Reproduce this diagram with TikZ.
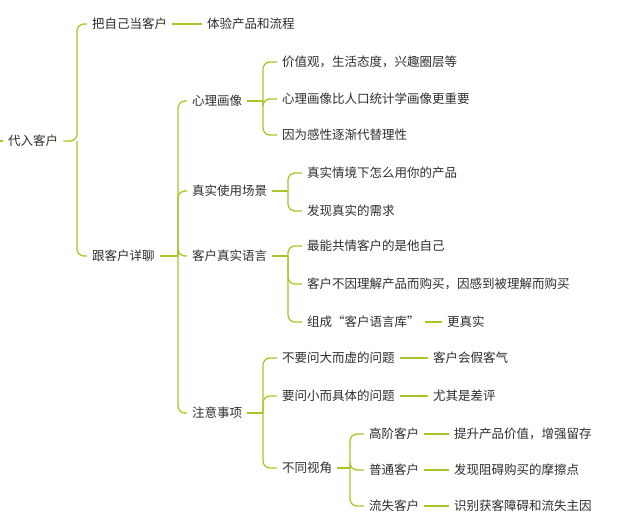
\documentclass[tikz,border=0pt]{standalone}
\usepackage{fontspec}
\setmainfont{Noto Sans CJK SC}
\usepackage{xcolor}
\definecolor{limeline}{RGB}{165,200,40}
\definecolor{txtgray}{RGB}{45,45,45}

\begin{document}
\begin{tikzpicture}[x=1pt,y=-1pt,
  topic/.style={anchor=west,inner xsep=5pt,inner ysep=2pt,text=txtgray,font=\fontsize{12.5}{14}\selectfont},
  link/.style={draw=limeline,line width=1.3pt,rounded corners=7pt}]
\useasboundingbox (0,0) rectangle (640,529);

        \node[topic] (root) at (3,141) {代入客户};
        \node[topic] (self) at (87,24) {把自己当客户};
        \node[topic] (exp) at (202,24) {体验产品和流程};
        \node[topic] (talk) at (87,256) {跟客户详聊};

        \node[topic] (psy) at (187,101) {心理画像};
        \node[topic] (psya) at (277,62) {价值观，生活态度，兴趣圈层等};
        \node[topic] (psyb) at (277,99) {心理画像比人口统计学画像更重要};
        \node[topic] (psyc) at (277,135) {因为感性逐渐代替理性};

        \node[topic] (scene) at (187,191) {真实使用场景};
        \node[topic] (scenea) at (302,173) {真实情境下怎么用你的产品};
        \node[topic] (sceneb) at (302,211) {发现真实的需求};

        \node[topic] (lang) at (187,256) {客户真实语言};
        \node[topic] (langa) at (302,246) {最能共情客户的是他自己};
        \node[topic] (langb) at (302,284) {客户不因理解产品而购买，因感到被理解而购买};
        \node[topic] (langc) at (302,322) {组成“客户语言库”};
        \node[topic] (langd) at (442,322) {更真实};

        \node[topic] (note) at (187,413) {注意事项};
        \node[topic] (notea) at (277,358) {不要问大而虚的问题};
        \node[topic] (noteaa) at (428,358) {客户会假客气};
        \node[topic] (noteb) at (277,396) {要问小而具体的问题};
        \node[topic] (notebb) at (428,396) {尤其是差评};
        \node[topic] (notec) at (277,468) {不同视角};

        \node[topic] (high) at (364,434) {高阶客户};
        \node[topic] (higha) at (449,434) {提升产品价值，增强留存};
        \node[topic] (norm) at (364,470) {普通客户};
        \node[topic] (norma) at (449,470) {发现阻碍购买的摩擦点};
        \node[topic] (lost) at (364,506) {流失客户};
        \node[topic] (losta) at (449,506) {识别获客障碍和流失主因};

        % branches
        \draw[link] (0,141) -- (root.west);
        \draw[link] (root.east) -- (77,141) |- (self.west);
        \draw[link] (77,141) |- (talk.west);
        \draw[link] (talk.east) -- (178,256);
        \foreach \n in {psy,scene,lang,note} \draw[link] (178,256) |- (\n.west);
        \draw[link] (psy.east) -- (263,101);
        \foreach \n in {psya,psyb,psyc} \draw[link] (263,101) |- (\n.west);
        \draw[link] (scene.east) -- (288,191);
        \foreach \n in {scenea,sceneb} \draw[link] (288,191) |- (\n.west);
        \draw[link] (lang.east) -- (288,256);
        \foreach \n in {langa,langb,langc} \draw[link] (288,256) |- (\n.west);
        \draw[link] (note.east) -- (263,413);
        \foreach \n in {notea,noteb,notec} \draw[link] (263,413) |- (\n.west);
        \draw[link] (notec.east) -- (350,468);
        \foreach \n in {high,norm,lost} \draw[link] (350,468) |- (\n.west);

        % leaves
        \draw[link] (self.east) -- (exp.west);
        \draw[link] (langc.east) -- (langd.west);
        \draw[link] (notea.east) -- (noteaa.west);
        \draw[link] (noteb.east) -- (notebb.west);
        \draw[link] (high.east) -- (higha.west);
        \draw[link] (norm.east) -- (norma.west);
        \draw[link] (lost.east) -- (losta.west);
\end{tikzpicture}
\end{document}
